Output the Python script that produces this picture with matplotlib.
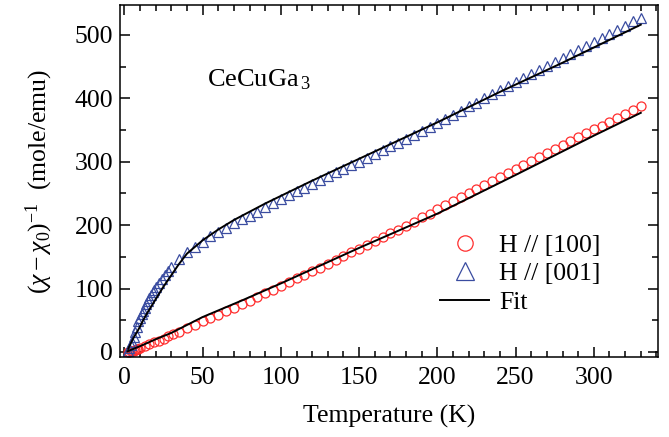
import matplotlib
matplotlib.use("Agg")
import matplotlib.pyplot as plt
from matplotlib.ticker import MultipleLocator

plt.rcParams['font.family'] = ['Liberation Serif', 'DejaVu Serif']
plt.rcParams['mathtext.fontset'] = 'custom'
plt.rcParams['mathtext.rm'] = 'Liberation Serif'
plt.rcParams['mathtext.it'] = 'Liberation Serif:italic'

# H // [001] data (blue triangles)
T_001 = [2, 3, 4, 5, 6, 7, 8, 9, 10, 11, 12, 13, 14, 15, 16, 17, 18, 19, 20, 22, 24, 26, 28, 30,
         35, 40, 45, 50, 55, 60, 65, 70, 75, 80, 85, 90, 95, 100, 105, 110, 115, 120, 125, 130,
         135, 140, 145, 150, 155, 160, 165, 170, 175, 180, 185, 190, 195, 200, 205, 210, 215,
         220, 225, 230, 235, 240, 245, 250, 255, 260, 265, 270, 275, 280, 285, 290, 295, 300,
         305, 310, 315, 320, 325, 330]
chi_001 = [2, 6, 11, 16, 24, 32, 40, 48, 54, 60, 65, 70, 75, 80, 85, 89, 94, 98, 102, 109, 115,
           121, 128, 134, 147, 157, 166, 174, 182, 189, 196, 203, 209, 215, 221, 228, 235, 241,
           247, 253, 259, 265, 271, 277, 283, 289, 295, 300, 306, 312, 318, 324, 330, 336, 342,
           348, 354, 361, 367, 374, 380, 387, 393, 400, 406, 413, 419, 425, 432, 438, 444, 451,
           457, 463, 470, 476, 483, 489, 495, 502, 508, 514, 521, 527]

# H // [100] data (red circles)
T_100 = [2, 3, 4, 5, 6, 7, 8, 9, 10, 13, 16, 19, 22, 25, 28, 31, 35, 40, 45, 50, 55, 60, 65, 70,
         75, 80, 85, 90, 95, 100, 105, 110, 115, 120, 125, 130, 135, 140, 145, 150, 155, 160,
         165, 170, 175, 180, 185, 190, 195, 200, 205, 210, 215, 220, 225, 230, 235, 240, 245,
         250, 255, 260, 265, 270, 275, 280, 285, 290, 295, 300, 305, 310, 315, 320, 325, 330]
chi_100 = [0, 0.5, 1, 1.5, 2, 3, 4, 5, 6, 9, 12, 15, 18, 21, 24.5, 28, 32, 37, 43, 48, 54, 59, 65,
           70, 76, 81, 87, 93, 98, 104, 110, 116, 121, 127, 133, 139, 145, 151, 157, 163, 169,
           175, 181, 187, 193, 199, 205, 212, 218, 226, 232, 238, 245, 251, 257, 263, 270, 276,
           282, 288, 295, 301, 307, 313, 320, 326, 332, 339, 345, 351, 357, 363, 369, 375, 382,
           388]

# Fit curves
T_fit_001 = [2.5, 3, 4, 5, 6, 8, 10, 12, 15, 20, 25, 30, 35, 40, 50, 60, 70, 80, 90, 100, 120,
             140, 160, 180, 200, 220, 240, 260, 280, 300, 320, 330]
fit_001 = [5, 8, 13, 18, 23, 31, 40, 50, 63, 83, 103, 121, 139, 155, 176, 193, 208, 221, 234,
           246, 270, 293, 316, 339, 362, 386, 410, 433, 456, 480, 504, 516]
T_fit_100 = [2, 5, 10, 20, 30, 50, 75, 100, 150, 200, 250, 300, 330]
fit_100 = [1, 4, 9, 20, 30, 55, 81, 108, 164, 218, 279, 341, 377]

xticks = [0, 50, 100, 150, 200, 250, 300]
yticks = [0, 100, 200, 300, 400, 500]

fig = plt.figure(figsize=(6.69, 4.37), dpi=100)
ax = fig.add_axes([120/669, 80/437, 538/669, 352/437])

red = '#ff2e2e'
blue = '#3a4ca0'

ax.plot(T_100, chi_100, linestyle='none', marker='o', markersize=6.5, markerfacecolor='none',
        markeredgecolor=red, markeredgewidth=0.9, label='H // [100]')
ax.plot(T_001, chi_001, linestyle='none', marker='^', markersize=7.5, markerfacecolor='none',
        markeredgecolor=blue, markeredgewidth=0.9, label='H // [001]')
ax.plot(T_fit_100, fit_100, color='black', linewidth=1.4, label='Fit')
ax.plot(T_fit_001, fit_001, color='black', linewidth=1.4)

ax.set_xlim(-2.8, 341)
ax.set_ylim(-8, 547)
ax.set_xticks(xticks)
ax.set_yticks(yticks)
ax.xaxis.set_minor_locator(MultipleLocator(10))
ax.yaxis.set_minor_locator(MultipleLocator(50))
ax.tick_params(which='both', direction='in', top=True, right=True, labelsize=18.5, width=1.1)
ax.tick_params(which='major', length=7)
ax.tick_params(which='minor', length=4)
ax.tick_params(axis='x', which='major', pad=7)
ax.tick_params(axis='y', which='major', pad=5)
for s in ax.spines.values():
    s.set_linewidth(1.1)

ax.set_xlabel('Temperature (K)', fontsize=18.5, labelpad=12)
ax.set_ylabel(r'$(\chi - \chi_0)^{-1}$  (mole/emu)', fontsize=18.5, labelpad=14)

ax.text(0.162, 0.77, r'CeCuGa$_{\,3}$', transform=ax.transAxes, fontsize=19)

leg = ax.legend(loc='upper left', bbox_to_anchor=(0.595, 0.35), frameon=False, fontsize=18.5,
                handlelength=1.9, handletextpad=0.4, labelspacing=0.22, borderpad=0,
                borderaxespad=0, markerscale=1.7)

fig.savefig('out.png', dpi=100)
